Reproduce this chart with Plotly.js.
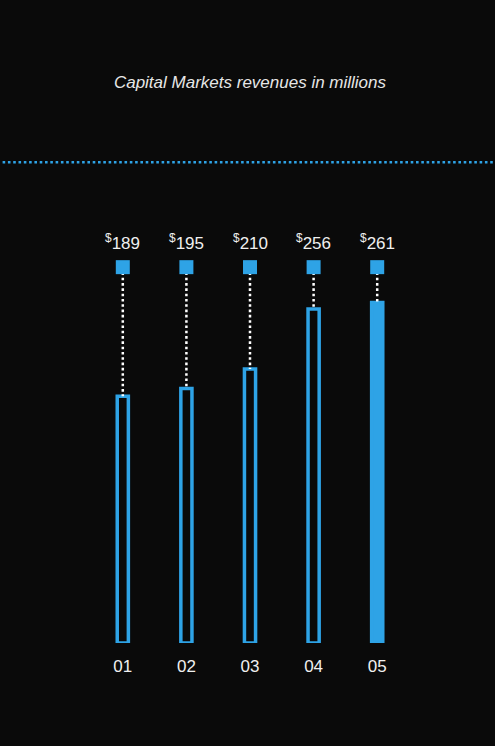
<!DOCTYPE html>
<html><head><meta charset="utf-8">
<script src="https://cdn.plot.ly/plotly-3.0.1.min.js"></script>
<style>html,body{margin:0;padding:0;background:#0a0a0a;}#chart{width:495px;height:746px;}</style>
</head><body><div id="chart"></div>
<script>
const categories = ['01', '02', '03', '04', '05'];
const revenues = [189, 195, 210, 256, 261];
const currencySymbol = '$';
const titleText = 'Capital Markets revenues in millions';
const markerLevel = 288;

const blue = '#2ea3e6';
const bg = '#0a0a0a';
const textColor = '#f0f0f0';
const font = 'Liberation Sans, Arial, Helvetica, sans-serif';

const traces = [];
traces.push({
  type: 'bar', x: categories, y: revenues, width: 0.175,
  marker: {color: categories.map((c, i) => i === categories.length - 1 ? blue : bg), line: {color: blue, width: 3.5}},
  hoverinfo: 'none', showlegend: false
});
categories.forEach((c, i) => {
  traces.push({
    type: 'scatter', mode: 'lines', x: [c, c], y: [markerLevel, revenues[i]],
    line: {color: '#ffffff', width: 2.5, dash: '2.6px,2.7px'}, hoverinfo: 'none', showlegend: false
  });
});
traces.push({
  type: 'scatter', mode: 'markers', x: categories, y: categories.map(() => markerLevel),
  marker: {symbol: 'square', size: 14, color: blue, line: {width: 0}}, hoverinfo: 'none', showlegend: false
});

const annotations = categories.map((c, i) => ({
  x: i, y: markerLevel, xref: 'x', yref: 'y', yshift: 25, showarrow: false,
  text: '<sup>' + currencySymbol + '</sup>' + revenues[i],
  font: {family: font, size: 17, color: textColor}
}));

const layout = {
  width: 495, height: 746,
  paper_bgcolor: bg, plot_bgcolor: bg,
  margin: {l: 91, r: 86, t: 121, b: 103, pad: 0},
  title: {
    text: '<i>' + titleText + '</i>', x: 0.505, xref: 'container', xanchor: 'center',
    y: 1 - 82 / 746, yref: 'container', yanchor: 'middle',
    font: {family: font, size: 17, color: '#e6e6e6'}
  },
  xaxis: {
    type: 'category', range: [-0.5, 4.5], showgrid: false, zeroline: false, showline: false,
    ticks: '', ticklabelstandoff: 11, tickfont: {family: font, size: 17, color: textColor}, fixedrange: true
  },
  yaxis: {range: [0, 400], visible: false, fixedrange: true},
  annotations: annotations,
  shapes: [{
    type: 'line', xref: 'paper', yref: 'paper', x0: -0.278, x1: 1.28, y0: 0.921, y1: 0.921,
    line: {color: blue, width: 2.6, dash: '2.6px,2.7px'}
  }],
  showlegend: false
};

Plotly.newPlot('chart', traces, layout, {displayModeBar: false, staticPlot: true});
</script>
</body></html>
